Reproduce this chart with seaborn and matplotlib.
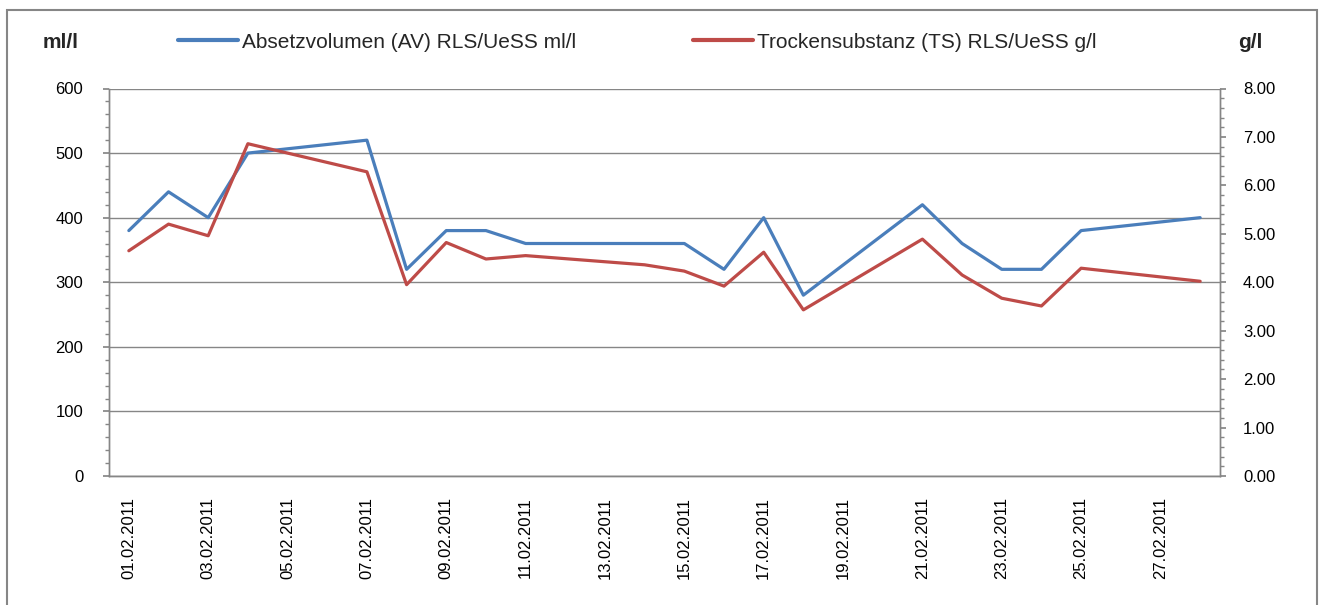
import numpy as np
import pandas as pd
import matplotlib
matplotlib.use("Agg")
import matplotlib.pyplot as plt
import seaborn as sns
from matplotlib.lines import Line2D
from matplotlib.patches import Rectangle

# Data (weekends have no samples)
dates = ["01.02.2011", "02.02.2011", "03.02.2011", "04.02.2011", "07.02.2011",
         "08.02.2011", "09.02.2011", "10.02.2011", "11.02.2011", "14.02.2011",
         "15.02.2011", "16.02.2011", "17.02.2011", "18.02.2011", "21.02.2011",
         "22.02.2011", "23.02.2011", "24.02.2011", "25.02.2011", "28.02.2011"]
av_ml_l = [380, 440, 400, 500, 520, 320, 380, 380, 360, 360,
           360, 320, 400, 280, 420, 360, 320, 320, 380, 400]
ts_g_l = [4.65, 5.20, 4.96, 6.86, 6.28, 3.95, 4.82, 4.48, 4.55, 4.36,
          4.23, 3.92, 4.62, 3.43, 4.89, 4.15, 3.67, 3.51, 4.29, 4.02]
tick_labels = ["01.02.2011", "03.02.2011", "05.02.2011", "07.02.2011", "09.02.2011",
               "11.02.2011", "13.02.2011", "15.02.2011", "17.02.2011", "19.02.2011",
               "21.02.2011", "23.02.2011", "25.02.2011", "27.02.2011"]

av_label = "Absetzvolumen (AV) RLS/UeSS ml/l"
ts_label = "Trockensubstanz (TS) RLS/UeSS g/l"
blue = "#4A7EBB"
red = "#BE4B48"
grey = "#868686"

df = pd.DataFrame({"date": pd.to_datetime(dates, format="%d.%m.%Y"),
                   "av": av_ml_l, "ts": ts_g_l})
df["day"] = df["date"].dt.day
tick_days = pd.to_datetime(tick_labels, format="%d.%m.%Y").day

sns.set_theme(style="white")
plt.rcParams["font.family"] = ["Liberation Sans", "DejaVu Sans"]

fig = plt.figure(figsize=(13.23, 6.05), dpi=100)
ax = fig.add_axes([109 / 1323, 1 - 476 / 605, (1220 - 109) / 1323, (476 - 88.5) / 605])
ax2 = ax.twinx()

sns.lineplot(data=df, x="day", y="av", ax=ax, color=blue, linewidth=2.3, legend=False)
sns.lineplot(data=df, x="day", y="ts", ax=ax2, color=red, linewidth=2.3, legend=False)

# x axis: one category per day, tick marks between days
ax.set_xlim(0.5, 28.5)
ax.set_xticks(list(tick_days))
ax.set_xticklabels(tick_labels, rotation=90, fontsize=12, va="top", color="black")
ax.set_xticks(np.arange(0.5, 29, 1), minor=True)
ax.tick_params(axis="x", which="major", length=0, pad=15)
ax.tick_params(axis="x", which="minor", length=4, color=grey, width=1)
ax.set_xlabel("")

# left axis
ax.set_ylim(0, 600)
ax.set_yticks(np.arange(0, 601, 100))
ax.set_yticks(np.arange(0, 601, 20), minor=True)
ax.tick_params(axis="y", which="major", length=4, color=grey, labelsize=12,
               labelcolor="black", pad=14.5, left=True)
ax.tick_params(axis="y", which="minor", length=3, color=grey, left=True)
ax.set_ylabel("")
ax.grid(True, axis="y", which="major", color=grey, linewidth=1)
ax.set_axisbelow(True)

# right axis
ax2.set_ylim(0, 8)
ax2.set_yticks(np.arange(0, 8.01, 1))
ax2.set_yticklabels([f"{v:.2f}" for v in np.arange(0, 8.01, 1)])
ax2.set_yticks(np.arange(0, 8.01, 0.2), minor=True)
ax2.tick_params(axis="y", which="major", length=4, color=grey, labelsize=12,
                labelcolor="black", pad=12.5, right=True)
ax2.tick_params(axis="y", which="minor", length=3, color=grey, right=True)
ax2.set_ylabel("")
ax2.grid(False)

for a in (ax, ax2):
    a.spines["top"].set_visible(False)
    for s in ("left", "right", "bottom"):
        a.spines[s].set_color(grey)
        a.spines[s].set_linewidth(1)

# legend across the top, one entry each
for col, lab, x0 in [(blue, av_label, 178), (red, ts_label, 693)]:
    fig.legend([Line2D([], [], color=col, linewidth=3)], [lab], loc="center left",
               bbox_to_anchor=(x0 / 1323, 1 - 42 / 605), frameon=False,
               fontsize=15, handlelength=2.9, handletextpad=0.15,
               borderpad=0, borderaxespad=0)
fig.text(43 / 1323, 1 - 42 / 605, "ml/l", fontsize=15, fontweight="bold", va="center", ha="left")
fig.text(1238 / 1323, 1 - 42 / 605, "g/l", fontsize=15, fontweight="bold", va="center", ha="left")

# outer chart border
fig.patches.append(Rectangle((7, -20), 1310, 615, transform=None, fill=False,
                             edgecolor=grey, linewidth=1.5))

fig.savefig("out.png", dpi=100)
